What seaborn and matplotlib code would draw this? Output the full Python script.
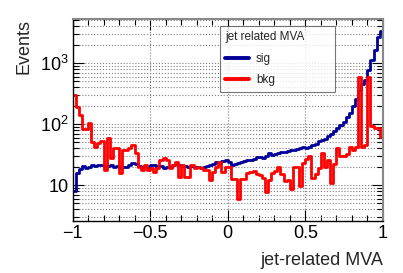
import numpy as np
import pandas as pd
import matplotlib
matplotlib.use("Agg")
import matplotlib.pyplot as plt
import seaborn as sns
from matplotlib.lines import Line2D
from matplotlib.ticker import MultipleLocator, LogLocator, FuncFormatter, NullFormatter

# 100 bins over [-1, 1]
n_bins = 100
x_range = (-1, 1)

sig = [8, 16, 18.5, 20.5, 19, 20, 21, 20.5, 21, 21,
       19.5, 20.5, 21, 19.5, 20.5, 19, 19.5, 20, 21, 23,
       22, 20.5, 20, 20.5, 20, 21, 21, 20, 20.5, 19,
       19.5, 20, 21.5, 22, 21, 20.5, 20.5, 20, 20.5, 20,
       19.5, 19, 20, 20.5, 21, 22.5, 24, 23, 25, 25.5,
       24, 21.5, 22.5, 23, 24, 24.5, 26, 26, 26.5, 28.5,
       28.5, 27.5, 30, 33, 31.5, 32, 34, 35, 35, 36,
       37, 38, 38.5, 40, 42, 40, 42, 45, 48, 52,
       55, 58, 63, 70, 77, 85, 97, 110, 130, 155,
       200, 260, 360, 460, 530, 770, 1120, 1650, 2700, 3400]

bkg = [300, 190, 140, 82, 82, 104, 51, 42, 49, 52,
       17.5, 59, 28, 40, 40, 16, 37, 37, 40, 45,
       33, 20, 17.5, 21, 18, 18.8, 16.6, 18.8, 25.7, 27.4,
       25.7, 18.8, 21.2, 24, 13.7, 21, 13.7, 13.7, 21, 18.8,
       20, 18.8, 17.6, 17.6, 12.1, 16.6, 20, 24, 16.6, 20,
       20, 12.5, 12.5, 6, 12.7, 12.7, 16, 16.5, 17, 15,
       14.5, 13, 7.8, 12, 16, 17, 20, 15, 11.5, 12,
       8.5, 20, 20, 9.5, 23, 27, 30, 13, 15, 19,
       33, 20, 26, 11, 22, 40, 30, 30, 32, 42,
       37, 42, 590, 42, 45, 600, 92, 88, 85, 62]

samples = ["sig", "bkg"]
colors = {"sig": "#000099", "bkg": "#ff0000"}

edges = np.linspace(x_range[0], x_range[1], n_bins + 1)
centers = (edges[:-1] + edges[1:]) / 2
df = pd.DataFrame({
    "x": np.concatenate([centers, centers]),
    "w": sig + bkg,
    "sample": ["sig"] * len(sig) + ["bkg"] * len(bkg),
})

sns.set_theme(style="ticks")
plt.rcParams['font.family'] = ['Liberation Sans', 'DejaVu Sans']
plt.rcParams['mathtext.fontset'] = 'custom'
plt.rcParams['mathtext.rm'] = 'Liberation Sans'
plt.rcParams['mathtext.it'] = 'Liberation Sans:italic'

fig = plt.figure(figsize=(4.03, 2.73), dpi=100)
ax = fig.add_axes([0.180, 0.190, 0.770, 0.740])

for name in samples:
    sub = df[df["sample"] == name]
    sns.histplot(data=sub, x="x", weights="w", bins=n_bins, binrange=x_range,
                 element="step", fill=False, color=colors[name], linewidth=2.0, ax=ax)

ax.set_yscale("log")
ax.set_xlim(-1, 1)
ax.set_ylim(2.57, 5260)

ax.xaxis.set_major_locator(MultipleLocator(0.5))
ax.xaxis.set_minor_locator(MultipleLocator(0.1))
ax.xaxis.set_major_formatter(FuncFormatter(lambda v, p: ("%g" % v).replace("-", "\u2212")))
ax.yaxis.set_major_locator(LogLocator(base=10))
ax.yaxis.set_minor_locator(LogLocator(base=10, subs=np.arange(2, 10)))
ax.yaxis.set_minor_formatter(NullFormatter())


def ylab(v, p):
    e = int(round(np.log10(v)))
    if e == 1:
        return "10"
    return r"$10^{%d}$" % e


ax.yaxis.set_major_formatter(FuncFormatter(ylab))

ax.tick_params(which="both", direction="in", top=True, right=True, colors="black")
ax.tick_params(which="major", length=8, width=0.8, labelsize=13, pad=3)
ax.tick_params(which="minor", length=4, width=0.8)

ax.grid(True, which="major", axis="x", ls=":", color="gray", lw=0.8)
ax.grid(True, which="both", axis="y", ls=":", color="gray", lw=0.8)

for s in ["left", "bottom"]:
    ax.spines[s].set_color("black")
    ax.spines[s].set_linewidth(1.0)
for s in ["top", "right"]:
    ax.spines[s].set_color("#888888")
    ax.spines[s].set_linewidth(1.5)

ax.set_xlabel("jet-related MVA", loc="right", fontsize=13, labelpad=7)
ax.set_ylabel("Events", loc="top", fontsize=13, labelpad=5)

handles = [Line2D([], [], color=colors[n], lw=2.8) for n in samples]
leg = ax.legend(handles, samples, title="jet related MVA", loc="upper left",
                bbox_to_anchor=(220 / 403, 1 - 90 / 273, 115 / 403, 64 / 273),
                bbox_transform=fig.transFigure, mode="expand", borderaxespad=0,
                fontsize=8.5, title_fontsize=8.5, handlelength=2.0, handletextpad=0.6,
                labelspacing=0.8, borderpad=0.45, fancybox=False, alignment="left")
leg.get_frame().set_edgecolor("#555555")
leg.get_frame().set_linewidth(0.8)

fig.savefig("out.png", dpi=100)
